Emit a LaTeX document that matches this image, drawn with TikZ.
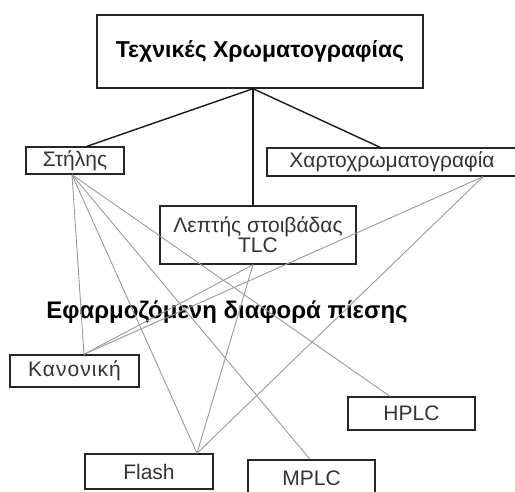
\documentclass[tikz,border=0pt]{standalone}
\usepackage{fontspec}
\setmainfont{Liberation Sans}
\begin{document}
\begin{tikzpicture}[x=1pt,y=-1pt,
  box/.style={draw=black!85,line width=1.4pt,rectangle,inner sep=0pt},
  main/.style={draw=black!90,line width=1.4pt},
  sub/.style={draw=black!40,line width=0.9pt},
  lbl/.style={font=\fontsize{21}{22}\selectfont,text=black!80},
  btitle/.style={font=\fontsize{23}{25}\selectfont\bfseries}]
\useasboundingbox (0,0) rectangle (515,491);
% nodes
\node[box,minimum width=326pt,minimum height=73pt,btitle] (top) at (260,51.5) {Τεχνικές Χρωματογραφίας};
\node[box,minimum width=98pt,minimum height=27pt,lbl] (col) at (75,160.5) {Στήλης};
\node[box,minimum width=250pt,minimum height=28pt,lbl] (paper) at (392,162) {Χαρτοχρωματογραφία};
\node[box,minimum width=196pt,minimum height=58pt,lbl,align=center] (tlc) at (258,235) {Λεπτής στοιβάδας\\[-2pt]TLC};
\node[font=\fontsize{24}{26}\selectfont\bfseries] (press) at (227,312) {Εφαρμοζόμενη διαφορά πίεσης};
\node[box,minimum width=129pt,minimum height=32pt,lbl] (norm) at (74.5,371) {\addfontfeature{LetterSpace=5}Κανονική};
\node[box,minimum width=127pt,minimum height=33pt,lbl] (hplc) at (411.5,413.5) {HPLC};
\node[box,minimum width=128pt,minimum height=35pt,lbl] (flash) at (149,471.5) {Flash};
\node[box,minimum width=127pt,minimum height=36pt,lbl] (mplc) at (311.5,478) {MPLC};
% black connectors
\draw[main] ([xshift=-7pt]top.south) -- ([xshift=12pt]col.north);
\draw[main] ([xshift=-7pt]top.south) -- ([xshift=-12pt]paper.north);
\draw[main] ([xshift=-7pt]top.south) -- ([xshift=-5pt]tlc.north);
% grey connectors
\draw[sub] ([xshift=-3pt]col.south) -- ([xshift=9.5pt]norm.north);
\draw[sub] ([xshift=-3pt]col.south) -- ([xshift=48pt]flash.north);
\draw[sub] ([xshift=-3pt]col.south) -- ([xshift=-1.5pt]mplc.north);
\draw[sub] ([xshift=-3pt]col.south) -- ([xshift=-21.5pt]hplc.north);
\draw[sub] ([xshift=91pt]paper.south) -- ([xshift=9.5pt]norm.north);
\draw[sub] ([xshift=91pt]paper.south) -- ([xshift=48pt]flash.north);
\draw[sub] ([xshift=-5pt]tlc.south) -- ([xshift=9.5pt]norm.north);
\draw[sub] ([xshift=-5pt]tlc.south) -- ([xshift=48pt]flash.north);
\end{tikzpicture}
\end{document}
